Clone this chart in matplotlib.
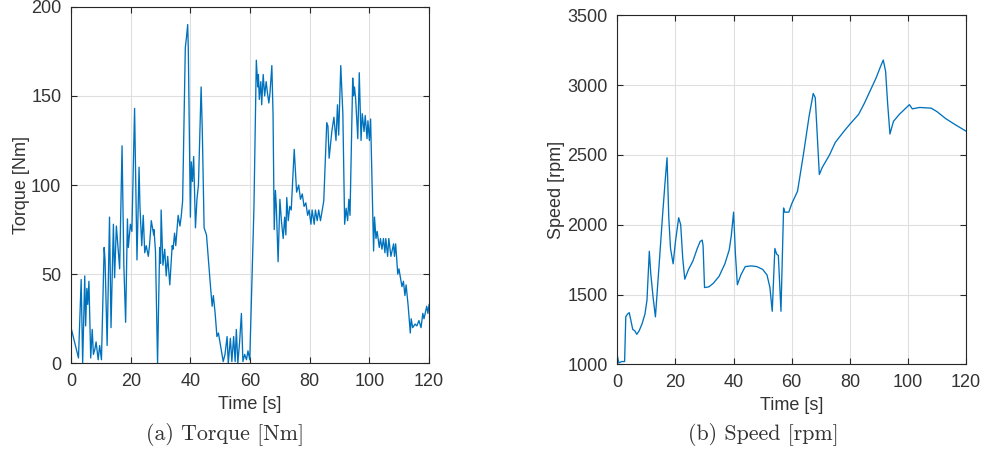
import matplotlib
matplotlib.use("Agg")
import matplotlib.pyplot as plt

# torque trace [s, Nm]
torque_t = [0.0, 2.5, 3.4, 3.9, 4.6, 4.9, 5.3, 5.6, 6.0, 6.6, 7.1, 7.5, 8.0, 8.4, 9.1, 9.6,
            10.2, 11.1, 11.4, 12.1, 12.9, 13.4, 14.2, 14.6, 15.2, 15.6, 16.3, 17.1, 17.7,
            18.3, 18.9, 19.2, 19.9, 20.4, 21.3, 22.1, 22.8, 23.1, 23.7, 24.2, 24.7, 25.2,
            25.9, 26.3, 26.9, 27.7, 27.8, 28.3, 29.0, 29.7, 30.0, 30.2, 30.8, 31.4, 31.9,
            32.4, 33.1, 33.9, 34.2, 34.7, 35.1, 35.9, 36.5, 36.9, 37.4, 38.3, 38.7, 39.1,
            39.3, 40.0, 40.3, 40.7, 41.1, 41.7, 42.2, 42.7, 43.6, 44.0, 44.6, 45.4, 46.0,
            46.7, 47.3, 47.7, 48.3, 48.9, 49.4, 50.1, 50.4, 51.0, 51.6, 52.3, 52.7, 53.4,
            53.9, 54.5, 55.0, 55.4, 55.9, 56.5, 57.1, 57.6, 58.2, 58.8, 59.3, 59.9, 61.3,
            62.1, 62.6, 62.8, 63.1, 63.6, 63.9, 64.4, 64.9, 65.4, 65.8, 66.3, 66.7, 67.3,
            67.7, 68.1, 68.5, 68.8, 69.4, 70.0, 70.5, 71.1, 71.6, 72.0, 72.3, 72.8, 73.3,
            73.8, 74.8, 75.6, 76.3, 76.9, 77.5, 78.1, 78.7, 79.3, 79.8, 80.4, 80.8, 81.5,
            81.9, 82.5, 83.0, 83.6, 84.7, 85.7, 86.1, 86.5, 87.1, 87.4, 88.1, 88.8, 89.3,
            89.7, 90.4, 90.8, 91.1, 91.7, 92.2, 92.7, 93.1, 93.5, 94.4, 94.7, 95.0, 95.4,
            96.1, 96.6, 97.2, 97.6, 98.2, 98.6, 99.2, 99.5, 100.0, 100.4, 101.4, 101.7,
            102.2, 102.6, 103.3, 103.7, 104.2, 104.7, 105.2, 105.5, 106.1, 106.5, 107.2,
            108.1, 108.4, 108.8, 109.5, 109.9, 110.9, 111.4, 111.9, 112.3, 113.0, 113.7,
            114.0, 114.5, 115.3, 115.9, 116.6, 117.3, 117.9, 118.3, 119.2, 119.6, 120.0]
torque = [20, 3, 47, 0, 49, 21, 42, 33, 46, 3, 19, 5, 8, 12, 2, 10,
          2, 65, 58, 10, 82, 20, 78, 48, 77, 68, 53, 122, 55,
          23, 81, 65, 78, 74, 143, 58, 110, 88, 66, 83, 62, 66,
          60, 66, 80, 72, 75, 63, 0, 65, 56, 86, 55, 64, 49,
          60, 44, 66, 64, 73, 66, 83, 77, 82, 91, 177, 183, 190,
          177, 82, 113, 102, 116, 76, 92, 100, 155, 130, 76, 72, 59,
          44, 32, 38, 28, 15, 17, 10, 7, 1, 5, 15, 0, 14,
          1, 15, 1, 19, 0, 12, 28, 1, 5, 2, 7, 2, 87,
          170, 155, 162, 148, 158, 145, 162, 150, 158, 152, 146, 152, 167,
          140, 75, 97, 88, 57, 92, 80, 70, 82, 72, 93, 80, 88,
          86, 120, 96, 100, 92, 95, 88, 90, 83, 86, 78, 86, 78,
          86, 80, 86, 80, 91, 135, 133, 115, 125, 130, 138, 125, 145,
          128, 167, 152, 140, 78, 87, 80, 92, 83, 160, 150, 155, 148,
          126, 163, 125, 140, 130, 139, 126, 136, 125, 137, 63, 82,
          70, 74, 65, 70, 64, 70, 62, 70, 60, 70, 60,
          67, 60, 67, 50, 53, 43, 46, 38, 44, 32, 17,
          25, 20, 22, 21, 24, 20, 28, 25, 32, 28, 33]

# speed trace [s, rpm]
speed_t = [0.0, 0.5, 1.5, 2.5, 2.9, 3.5, 4.1, 4.8, 5.3, 6.0, 6.7, 7.5, 8.5, 9.5, 10.2,
           11.0, 11.5, 12.3, 13.1, 14.5, 15.5, 16.4, 17.1, 17.7, 18.3, 19.2, 20.0, 21.1,
           21.8, 22.5, 23.2, 24.5, 26.0, 27.5, 28.5, 29.2, 29.5, 30.0, 31.5, 33.0, 35.0,
           37.0, 38.5, 39.2, 40.0, 40.6, 41.3, 42.5, 44.0, 46.0, 48.0, 50.0, 51.5, 52.5,
           53.3, 54.2, 54.8, 55.4, 56.3, 57.2, 57.6, 59.0, 60.0, 62.0, 64.0, 66.0, 67.4,
           68.1, 69.5, 70.5, 73.0, 75.0, 78.0, 80.0, 83.0, 85.0, 87.0, 89.0, 90.5, 91.5,
           92.3, 93.0, 93.8, 95.0, 97.0, 99.0, 100.5, 101.5, 104.0, 108.0, 110.0, 113.0,
           116.0, 120.0]
speed = [1060, 1010, 1020, 1020, 1340, 1360, 1370, 1300, 1250, 1240, 1215, 1240, 1290,
         1360, 1460, 1810, 1650, 1480, 1340, 1750, 2050, 2300, 2480, 2050, 1830, 1720,
         1880, 2050, 2000, 1760, 1610, 1680, 1740, 1830, 1880, 1890, 1850, 1550, 1555,
         1580, 1630, 1720, 1820, 1920, 2090, 1800, 1570, 1640, 1700, 1705, 1700, 1680,
         1640, 1550, 1380, 1830, 1790, 1780, 1380, 2120, 2090, 2090, 2150, 2240, 2500,
         2780, 2940, 2910, 2360, 2410, 2500, 2590, 2670, 2720, 2790, 2870, 2960, 3050,
         3130, 3180, 3100, 2870, 2650, 2740, 2790, 2830, 2860, 2830, 2840, 2835, 2810,
         2760, 2720, 2670]

ink = "#333333"
blue = "#0072BD"
plt.rcParams["font.family"] = ["Liberation Sans", "DejaVu Sans"]
plt.rcParams["font.size"] = 13

fig = plt.figure(figsize=(9.81, 4.55), dpi=100)
ax1 = fig.add_axes([0.0724, 0.2015, 0.365, 0.7837])
ax2 = fig.add_axes([0.6293, 0.1993, 0.3555, 0.767])


def style(ax):
    ax.grid(True, color="#dfdfdf", linewidth=0.8)
    ax.set_axisbelow(True)
    for s in ax.spines.values():
        s.set_color("#262626")
        s.set_linewidth(0.8)
    ax.tick_params(direction="in", length=4, width=0.8, colors="#262626",
                   labelcolor=ink, top=True, right=True, labelsize=13)
    ax.tick_params(axis="y", pad=7)
    ax.tick_params(axis="x", pad=7)
    ax.set_xlim(0, 120)
    ax.set_xticks(range(0, 121, 20))
    ax.set_xlabel("Time [s]", color=ink, labelpad=4)


ax1.plot(torque_t, torque, color=blue, linewidth=0.95)
style(ax1)
ax1.set_ylim(0, 200)
ax1.set_yticks(range(0, 201, 50))
ax1.set_ylabel("Torque [Nm]", color=ink, labelpad=1)

ax2.plot(speed_t, speed, color=blue, linewidth=0.95)
style(ax2)
ax2.set_ylim(1000, 3500)
ax2.set_yticks(range(1000, 3501, 500))
ax2.set_ylabel("Speed [rpm]", color=ink, labelpad=1.5)

fig.text(0.2294, 0.044, "(a) Torque [Nm]", family="cmr10", fontsize=15.8,
         ha="center", va="center", color="#333333")
fig.text(0.778, 0.044, "(b) Speed [rpm]", family="cmr10", fontsize=15.8,
         ha="center", va="center", color="#333333")

fig.savefig("out.png", dpi=100)
